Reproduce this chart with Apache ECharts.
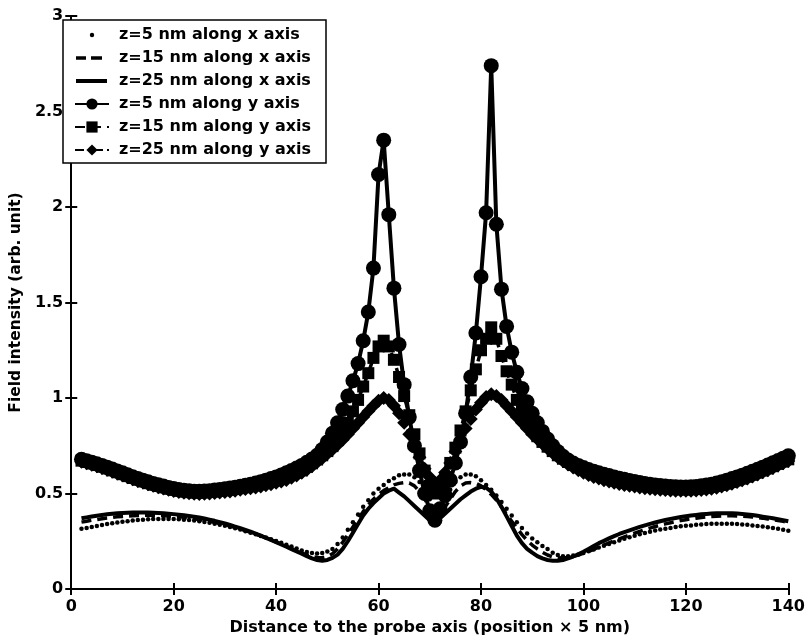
<!DOCTYPE html>
<html>
<head>
<meta charset="utf-8">
<title>Field intensity</title>
<script src="https://cdn.jsdelivr.net/npm/echarts@6/dist/echarts.min.js"></script>
<style>
  html, body { margin: 0; padding: 0; background: #fff; }
  #chart { width: 808px; height: 641px; }
</style>
</head>
<body>
<div id="chart"></div>
<script>
// probe positions (x axis, position units of 5 nm)
const positions = [
  2, 3, 4, 5, 6, 7, 8, 9, 10,
  11, 12, 13, 14, 15, 16, 17, 18, 19, 20,
  21, 22, 23, 24, 25, 26, 27, 28, 29, 30,
  31, 32, 33, 34, 35, 36, 37, 38, 39, 40,
  41, 42, 43, 44, 45, 46, 47, 48, 49, 50,
  51, 52, 53, 54, 55, 56, 57, 58, 59, 60,
  61, 62, 63, 64, 65, 66, 67, 68, 69, 70,
  71, 72, 73, 74, 75, 76, 77, 78, 79, 80,
  81, 82, 83, 84, 85, 86, 87, 88, 89, 90,
  91, 92, 93, 94, 95, 96, 97, 98, 99, 100,
  101, 102, 103, 104, 105, 106, 107, 108, 109, 110,
  111, 112, 113, 114, 115, 116, 117, 118, 119, 120,
  121, 122, 123, 124, 125, 126, 127, 128, 129, 130,
  131, 132, 133, 134, 135, 136, 137, 138, 139, 140
]

// z=5 nm along x axis
const z5x = [
  .315, .32, .325, .33, .335, .34, .344, .348, .352,
  .355, .358, .361, .363, .365, .366, .367, .367, .367, .366,
  .365, .363, .361, .358, .355, .351, .347, .342, .337, .331,
  .325, .318, .311, .303, .295, .287, .278, .269, .26, .251,
  .242, .232, .222, .212, .202, .194, .188, .186, .188, .196,
  .21, .235, .27, .31, .35, .39, .43, .465, .50, .525,
  .545, .565, .58, .595, .60, .60, .585, .56, .52, .47,
  .42, .42, .47, .52, .56, .585, .60, .60, .59, .57,
  .545, .52, .49, .455, .42, .385, .35, .32, .29, .265,
  .245, .225, .21, .19, .178, .172, .172, .175, .18, .188,
  .197, .207, .217, .227, .236, .245, .254, .263, .271, .279,
  .286, .293, .30, .306, .311, .316, .32, .324, .328, .331,
  .333, .336, .338, .34, .341, .342, .342, .342, .341, .34,
  .338, .336, .333, .33, .327, .323, .319, .315, .31, .305
]

// z=15 nm along x axis
const z15x = [
  .35, .355, .36, .364, .368, .372, .375, .378, .38,
  .382, .384, .385, .386, .386, .386, .385, .384, .382, .38,
  .378, .375, .372, .368, .364, .36, .355, .349, .343, .337,
  .33, .323, .315, .306, .297, .288, .278, .268, .257, .246,
  .235, .224, .212, .20, .189, .178, .17, .165, .164, .17,
  .185, .21, .245, .285, .325, .365, .405, .44, .47, .495,
  .515, .53, .545, .553, .557, .555, .54, .51, .47, .43,
  .40, .40, .43, .47, .51, .54, .555, .557, .553, .54,
  .52, .495, .465, .43, .39, .355, .32, .285, .255, .23,
  .21, .192, .178, .168, .163, .162, .165, .17, .178, .187,
  .197, .208, .219, .23, .241, .252, .263, .273, .283, .293,
  .302, .311, .319, .327, .334, .341, .347, .353, .358, .363,
  .367, .371, .374, .377, .379, .381, .382, .383, .383, .382,
  .381, .379, .377, .374, .371, .367, .363, .359, .354, .349
]

// z=25 nm along x axis
const z25x = [
  .37, .375, .38, .384, .388, .391, .394, .396, .398,
  .399, .40, .40, .40, .40, .399, .398, .396, .394, .392,
  .389, .386, .382, .378, .374, .369, .363, .357, .35, .343,
  .335, .327, .318, .309, .30, .29, .279, .268, .257, .245,
  .233, .221, .209, .197, .185, .172, .16, .152, .148, .152,
  .163, .18, .21, .25, .295, .34, .385, .42, .45, .475,
  .50, .515, .525, .505, .485, .46, .435, .41, .385, .36,
  .345, .37, .395, .42, .445, .47, .49, .51, .525, .535,
  .53, .51, .475, .43, .38, .33, .28, .24, .21, .19,
  .172, .16, .152, .148, .148, .152, .16, .17, .182, .195,
  .21, .225, .24, .252, .265, .277, .288, .298, .307, .316,
  .325, .333, .341, .348, .355, .361, .367, .372, .377, .381,
  .385, .388, .391, .393, .395, .396, .397, .397, .396, .395,
  .393, .39, .387, .383, .379, .375, .37, .365, .36, .355
]

// z=5 nm along y axis
const z5y = [
  .679, .672, .664, .656, .647, .638, .628, .618, .608,
  .598, .588, .579, .57, .561, .553, .546, .539, .532, .526,
  .521, .517, .514, .512, .512, .513, .515, .518, .521, .525,
  .529, .533, .538, .543, .549, .555, .562, .57, .578, .587,
  .597, .608, .62, .633, .647, .663, .68, .70, .73, .77,
  .815, .87, .94, 1.01, 1.09, 1.18, 1.30, 1.45, 1.68, 2.17,
  2.35, 1.96, 1.575, 1.28, 1.07, .90, .75, .62, .50, .41,
  .36, .42, .49, .57, .66, .77, .92, 1.11, 1.34, 1.635,
  1.97, 2.74, 1.91, 1.57, 1.375, 1.24, 1.135, 1.05, .98, .92,
  .87, .825, .785, .75, .72, .695, .675, .66, .647, .636,
  .626, .617, .609, .601, .594, .587, .58, .574, .568, .563,
  .558, .553, .549, .545, .542, .539, .537, .535, .534, .534,
  .535, .537, .54, .544, .549, .555, .562, .57, .578, .587,
  .596, .606, .616, .627, .638, .649, .661, .673, .685, .697
]

// z=15 nm along y axis
const z15y = [
  .672, .665, .657, .649, .64, .631, .621, .611, .601,
  .591, .581, .572, .563, .554, .546, .539, .532, .525, .519,
  .514, .51, .507, .505, .505, .506, .508, .51, .513, .517,
  .52, .524, .528, .533, .538, .543, .549, .556, .563, .571,
  .579, .588, .598, .609, .621, .64, .658, .678, .70, .722,
  .748, .78, .82, .87, .93, .99, 1.06, 1.13, 1.21, 1.27,
  1.30, 1.27, 1.20, 1.11, 1.01, .91, .81, .71, .62, .54,
  .50, .52, .58, .66, .74, .83, .93, 1.04, 1.15, 1.25,
  1.31, 1.37, 1.31, 1.22, 1.14, 1.07, .99, .93, .88, .835,
  .80, .77, .745, .722, .70, .682, .665, .65, .637, .625,
  .614, .604, .595, .587, .579, .572, .566, .56, .555, .55,
  .545, .541, .537, .533, .53, .527, .525, .523, .522, .521,
  .522, .524, .527, .53, .534, .539, .545, .552, .56, .569,
  .578, .588, .598, .609, .62, .631, .643, .655, .667, .679
]

// z=25 nm along y axis
const z25y = [
  .666, .659, .651, .643, .634, .625, .615, .605, .595,
  .585, .575, .566, .557, .548, .54, .533, .526, .519, .513,
  .508, .504, .501, .499, .498, .499, .50, .502, .505, .508,
  .511, .515, .519, .523, .527, .532, .537, .543, .549, .556,
  .563, .571, .582, .594, .608, .624, .643, .663, .685, .708,
  .731, .755, .782, .81, .84, .87, .90, .93, .96, .985,
  1.0, .99, .96, .92, .87, .81, .75, .69, .63, .585,
  .555, .57, .61, .66, .72, .78, .84, .89, .94, .975,
  1.005, 1.02, 1.01, .99, .96, .93, .90, .87, .84, .81,
  .785, .76, .735, .712, .69, .67, .652, .636, .622, .609,
  .597, .587, .578, .57, .563, .556, .55, .545, .54, .536,
  .532, .528, .525, .522, .52, .518, .516, .515, .514, .514,
  .515, .516, .518, .521, .525, .53, .536, .543, .551, .56,
  .569, .579, .589, .60, .611, .622, .634, .646, .658, .67
]

const seriesNames = [
  'z=5 nm along x axis',
  'z=15 nm along x axis',
  'z=25 nm along x axis',
  'z=5 nm along y axis',
  'z=15 nm along y axis',
  'z=25 nm along y axis'
]

const xTickLabels = ['0', '20', '40', '60', '80', '100', '120', '140']
const yTickLabels = ['0', '0.5', '1', '1.5', '2', '2.5', '3']

const FONT = 'DejaVu Sans'
const INK = '#000'

// legend icons for the plain-line series (corner points keep the 34x14 box)
const ICON_BOX = 'M0,0L0,0M34,14L34,14'
const iconDot = 'path://' + ICON_BOX + 'M14.8,7A2.2,2.2 0 1,0 19.2,7A2.2,2.2 0 1,0 14.8,7Z'
const iconDash = 'path://' + ICON_BOX + 'M1,5.2H11V8.8H1ZM16,5.2H27V8.8H16Z'
const iconSolid = 'path://' + ICON_BOX + 'M1,5H32V9H1Z'

function pairs(values) {
  return values.map((v, i) => [positions[i], v])
}

function lineSeries(name, values, opts) {
  return Object.assign({
    name: name,
    type: 'line',
    data: pairs(values),
    showSymbol: true,
    showAllSymbol: true,
    symbol: 'none',
    smooth: false,
    silent: true,
    itemStyle: { color: INK },
    lineStyle: { color: INK, width: 3.5 },
    animation: false
  }, opts)
}

const chart = echarts.init(document.getElementById('chart'), null, { renderer: 'canvas' })

const axisCommon = {
  type: 'value',
  axisLine: { show: true, lineStyle: { color: INK, width: 2 } },
  axisTick: { show: true, inside: true, length: 6, lineStyle: { color: INK, width: 2 } },
  splitLine: { show: false }
}

chart.setOption({
  backgroundColor: '#fff',
  animation: false,
  grid: { left: 63, right: 17, top: 16, bottom: 48, containLabel: false },
  legend: {
    orient: 'vertical',
    left: 63,
    top: 20,
    padding: [7, 15, 5, 11],
    itemWidth: 34,
    itemHeight: 14,
    itemGap: 7,
    selectedMode: false,
    backgroundColor: '#fff',
    borderColor: INK,
    borderWidth: 1.5,
    textStyle: { fontFamily: FONT, fontWeight: 'bold', fontSize: 16, color: INK, padding: [0, 0, 0, 5] },
    data: [
      { name: seriesNames[0], icon: iconDot },
      { name: seriesNames[1], icon: iconDash },
      { name: seriesNames[2], icon: iconSolid },
      { name: seriesNames[3] },
      { name: seriesNames[4] },
      { name: seriesNames[5] }
    ]
  },
  xAxis: [
    Object.assign({}, axisCommon, {
      position: 'bottom',
      min: 0, max: 140, interval: 20,
      name: 'Distance to the probe axis (position \u00d7 5 nm)',
      nameLocation: 'middle',
      nameGap: 31,
      nameTextStyle: { fontFamily: FONT, fontWeight: 'bold', fontSize: 16, color: INK },
      axisLabel: {
        margin: 10,
        fontFamily: FONT, fontWeight: 'bold', fontSize: 16, color: INK,
        formatter: v => xTickLabels[Math.round(v / 20)]
      }
    }),
    Object.assign({}, axisCommon, {
      position: 'top',
      min: 0, max: 140, interval: 20,
      axisLabel: { show: false }
    })
  ],
  yAxis: [
    Object.assign({}, axisCommon, {
      position: 'left',
      min: 0, max: 3, interval: 0.5,
      name: 'Field intensity (arb. unit)',
      nameLocation: 'middle',
      nameGap: 37,
      nameTextStyle: { fontFamily: FONT, fontWeight: 'bold', fontSize: 15.5, color: INK },
      axisLabel: {
        margin: 8,
        fontFamily: FONT, fontWeight: 'bold', fontSize: 16, color: INK,
        formatter: v => yTickLabels[Math.round(v / 0.5)]
      }
    }),
    Object.assign({}, axisCommon, {
      position: 'right',
      min: 0, max: 3, interval: 0.5,
      axisLabel: { show: false }
    })
  ],
  series: [
    lineSeries(seriesNames[0], z5x, {
      symbol: 'circle', symbolSize: 4.5,
      lineStyle: { color: INK, width: 0, opacity: 0 }
    }),
    lineSeries(seriesNames[1], z15x, {
      lineStyle: { color: INK, width: 3.5, type: [10, 6] }
    }),
    lineSeries(seriesNames[2], z25x, {
      lineStyle: { color: INK, width: 4 }
    }),
    lineSeries(seriesNames[3], z5y, {
      symbol: 'circle', symbolSize: 15,
      lineStyle: { color: INK, width: 4 }
    }),
    lineSeries(seriesNames[4], z15y, {
      symbol: 'rect', symbolSize: 12,
      lineStyle: { color: INK, width: 3.5, type: [10, 6] }
    }),
    lineSeries(seriesNames[5], z25y, {
      symbol: 'diamond', symbolSize: 14,
      lineStyle: { color: INK, width: 3, type: [9, 4, 2, 4] }
    })
  ]
})
</script>
</body>
</html>
